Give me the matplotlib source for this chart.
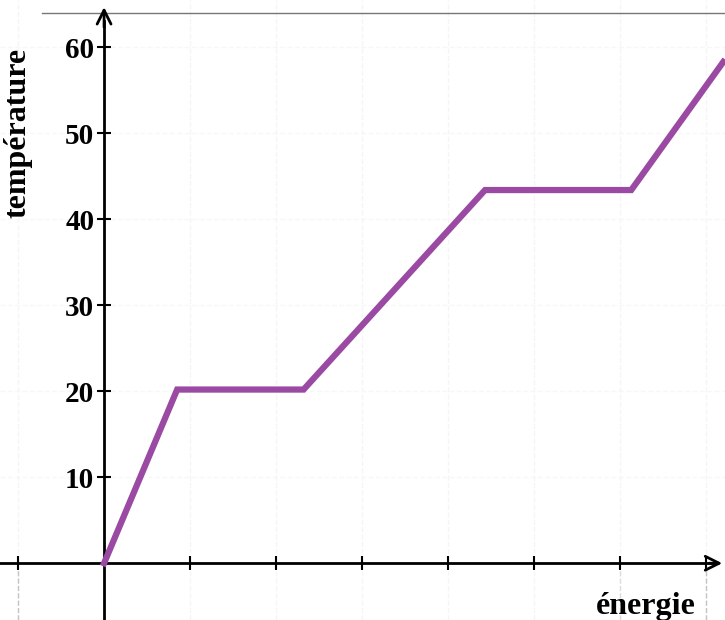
import matplotlib.pyplot as plt
import numpy as np

# energy (x) and temperature (y) at the corners of the heating curve
energie = [0, 0.85, 2.32, 4.43, 6.13, 7.2]
temperature = [0, 20.2, 20.2, 43.4, 43.4, 58.3]

xticks = [-1, 1, 2, 3, 4, 5, 6, 7]
yticks = [10, 20, 30, 40, 50, 60]

serif = ['Liberation Serif', 'DejaVu Serif']

fig = plt.figure(figsize=(7.25, 6.2), dpi=100)
ax = fig.add_axes([0, 0, 1, 1])
ax.set_xlim(-1.21, 7.22)
ax.set_ylim(-6.6, 65.5)

# axes through the origin
for s in ['top', 'right']:
    ax.spines[s].set_visible(False)
ax.spines['left'].set_position(('data', 0))
ax.spines['bottom'].set_position(('data', 0))
ax.spines['left'].set_linewidth(2)
ax.spines['bottom'].set_linewidth(2)
ax.spines['left'].set_bounds(-6.6, 63)
ax.spines['bottom'].set_bounds(-1.21, 7.1)

# arrow heads
ax.annotate('', xy=(7.22, 0), xytext=(7.0, 0),
            arrowprops=dict(arrowstyle='->', lw=2, color='black', mutation_scale=25))
ax.annotate('', xy=(0, 65.0), xytext=(0, 62),
            arrowprops=dict(arrowstyle='->', lw=2, color='black', mutation_scale=25))

# very faint dashed grid (washed out in the original)
for xv in xticks:
    ax.plot([xv, xv], [-6.6, 65.5], color='#f5f5f5', lw=1, ls='--', zorder=0)
for yv in yticks:
    ax.plot([-1.21, 7.22], [yv, yv], color='#f7f7f7', lw=1, ls='--', zorder=0)
ax.plot([-1, -1], [-6.6, -0.8], color='#c4c4c4', lw=1, ls='--', zorder=0)
ax.plot([6, 6], [-6.6, -0.8], color='#dedede', lw=1, ls='--', zorder=0)
ax.plot([7, 7], [-6.6, -0.8], color='#c4c4c4', lw=1, ls='--', zorder=0)

# top frame line
ax.plot([-0.72, 7.22], [64.0, 64.0], color='#777777', lw=1)

ax.set_xticks(xticks)
ax.set_xticklabels([])
ax.set_yticks(yticks)
ax.set_yticklabels([str(v) for v in yticks], family=serif, fontsize=21, fontweight='bold')
ax.tick_params(axis='both', direction='inout', length=10, width=1.5, pad=2)

ax.plot(energie, temperature, color='#9b4aa3', lw=4.5, solid_joinstyle='miter', zorder=5)

ax.text(-1.0, 50, 'température', rotation=90, ha='center', va='center',
        family=serif, fontsize=23, fontweight='bold')
ax.text(6.3, -5.0, 'énergie', ha='center', va='center',
        family=serif, fontsize=23, fontweight='bold')

fig.savefig('out.png', dpi=100)
